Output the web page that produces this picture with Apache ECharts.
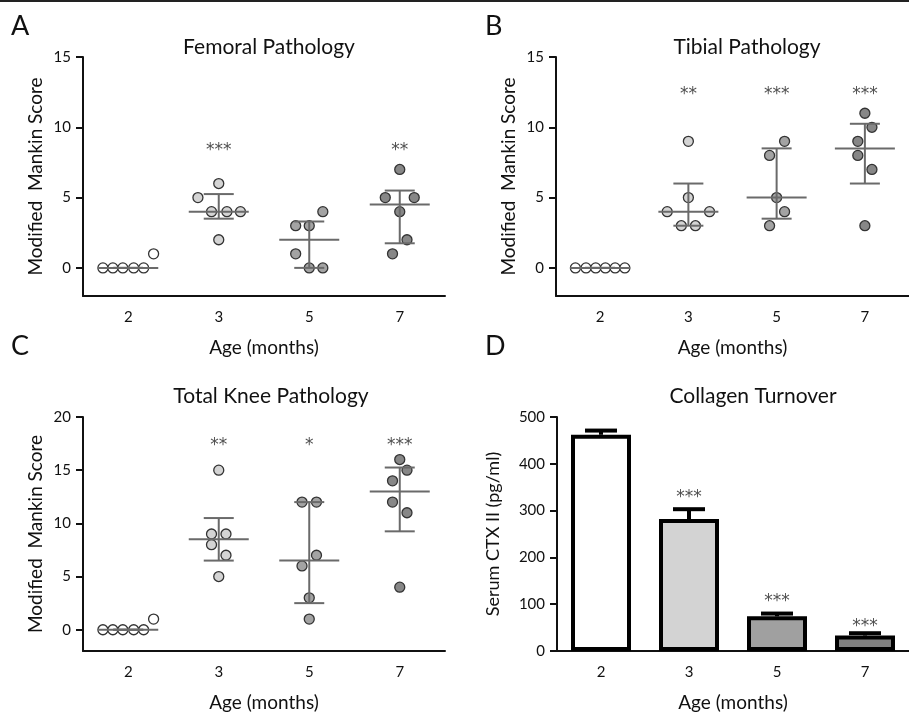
<!DOCTYPE html>
<html>
<head>
<meta charset="utf-8">
<script src="https://cdn.jsdelivr.net/npm/echarts@6/dist/echarts.min.js"></script>
<style>
html, body { margin: 0; padding: 0; background: #fff; }
#main { width: 909px; height: 713px; }
</style>
</head>
<body>
<div id="main"></div>
<script>
// ages on the x axis
const ages = ['2', '3', '5', '7'];
const dotColors = ['#ffffff', '#d4d4d4', '#a3a3a3', '#878787'];
const barColors = ['#ffffff', '#d3d3d3', '#a0a0a0', '#808080'];

// A - femoral scores per age group, with horizontal jitter (in category units)
const femoral = [[0, 0, 0, 0, 0, 1], [5, 6, 4, 4, 4, 2], [3, 3, 4, 1, 0, 0], [7, 5, 5, 4, 2, 1]];
const femoralJitter = [[-0.28, -0.17, -0.06, 0.06, 0.17, 0.28], [-0.23, 0, -0.08, 0.09, 0.24, 0], [-0.15, 0, 0.15, -0.15, 0, 0.15], [0, -0.16, 0.16, 0, 0.08, -0.08]];
const femoralStats = [[0, 0, 0], [4, 3.5, 5.25], [2, 0, 3.3], [4.5, 1.75, 5.5]]; // median, q1, q3
const femoralStars = ['', '***', '', '**'];
const femoralStarY = 8.7;

// B - tibial
const tibial = [[0, 0, 0, 0, 0, 0], [9, 5, 4, 4, 3, 3], [9, 8, 5, 4, 3], [11, 10, 9, 8, 7, 3]];
const tibialJitter = [[-0.28, -0.16, -0.05, 0.06, 0.17, 0.28], [0, 0, -0.24, 0.24, -0.08, 0.08], [0.09, -0.08, 0, 0.09, -0.08], [0, 0.08, -0.08, -0.08, 0.08, 0]];
const tibialStats = [[0, 0, 0], [4, 3, 6], [5, 3.5, 8.5], [8.5, 6, 10.25]];
const tibialStars = ['', '**', '***', '***'];
const tibialStarY = 12.65;

// C - total knee
const knee = [[0, 0, 0, 0, 0, 1], [15, 9, 9, 8, 7, 5], [12, 12, 7, 6, 3, 1], [16, 15, 14, 12, 11, 4]];
const kneeJitter = [[-0.28, -0.17, -0.06, 0.06, 0.17, 0.28], [0, -0.08, 0.08, -0.08, 0.08, 0], [-0.08, 0.08, 0.08, -0.08, 0, 0], [0, 0.08, -0.08, -0.08, 0.08, 0]];
const kneeStats = [[0, 0, 0], [8.5, 6.5, 10.5], [6.5, 2.5, 12], [13, 9.25, 15.25]];
const kneeStars = ['', '**', '*', '***'];
const kneeStarY = 17.8;

// D - serum CTX II
const ctxMean = [462, 282, 74, 33];
const ctxUpper = [471, 303, 80, 38];
const ctxStars = ['', '***', '***', '***'];
const ctxStarY = [0, 339, 117, 63];

const font = 'Lato';
const ink = '#111';

let chart = echarts.init(document.getElementById('main'));

function catAxis(grid, name) {
    return {
        type: 'category', gridIndex: grid, data: ages,
        boundaryGap: true,
        name: name, nameLocation: 'middle', nameGap: 42,
        nameTextStyle: {fontFamily: font, fontSize: 19, color: ink},
        axisLine: {onZero: false, lineStyle: {color: ink, width: 2}},
        axisTick: {alignWithLabel: true, length: 7, lineStyle: {color: ink, width: 2}},
        axisLabel: {fontFamily: font, fontSize: 15, color: ink, margin: 14}
    };
}
function hiddenAxis(grid) {
    return {type: 'value', gridIndex: grid, min: -0.5, max: 3.5, show: false};
}
function valAxis(grid, min, max, ticks, name, gap, size) {
    return {
        type: 'value', gridIndex: grid, min: min, max: max,
        name: name, nameLocation: 'middle', nameGap: gap,
        nameTextStyle: {fontFamily: font, fontSize: size, color: ink},
        splitLine: {show: false},
        axisLine: {show: true, onZero: false, lineStyle: {color: ink, width: 2}},
        axisTick: {show: true, length: 7, customValues: ticks, lineStyle: {color: ink, width: 2}},
        axisLabel: {fontFamily: font, fontSize: 15, color: ink, margin: 12, customValues: ticks}
    };
}

function renderMedian(params, api) {
    let m = api.coord([api.value(0), api.value(1)]);
    let lo = api.coord([api.value(0), api.value(2)]);
    let hi = api.coord([api.value(0), api.value(3)]);
    let st = {stroke: '#6a6a6a', lineWidth: 2};
    return {
        type: 'group', children: [
            {type: 'line', shape: {x1: m[0] - 30, y1: m[1], x2: m[0] + 30, y2: m[1]}, style: st},
            {type: 'line', shape: {x1: m[0], y1: lo[1], x2: m[0], y2: hi[1]}, style: st},
            {type: 'line', shape: {x1: m[0] - 15, y1: lo[1], x2: m[0] + 15, y2: lo[1]}, style: st},
            {type: 'line', shape: {x1: m[0] - 15, y1: hi[1], x2: m[0] + 15, y2: hi[1]}, style: st}
        ]
    };
}

function renderErr(params, api) {
    let base = api.coord([api.value(0), api.value(1)]);
    let top = api.coord([api.value(0), api.value(2)]);
    let st = {stroke: '#000', lineWidth: 4};
    return {
        type: 'group', children: [
            {type: 'line', shape: {x1: top[0], y1: base[1], x2: top[0], y2: top[1]}, style: st},
            {type: 'line', shape: {x1: top[0] - 16, y1: top[1], x2: top[0] + 16, y2: top[1]}, style: st}
        ]
    };
}

function starSeries(xIdx, yIdx, stars, ys) {
    let data = [];
    stars.forEach(function (s, i) {
        if (s) data.push({value: [i, Array.isArray(ys) ? ys[i] : ys], label: {formatter: s}});
    });
    return {
        type: 'scatter', xAxisIndex: xIdx, yAxisIndex: yIdx, symbolSize: 1,
        itemStyle: {color: 'rgba(0,0,0,0)'}, silent: true, z: 5,
        // the asterisk glyph sits high in its box, so push it down a little
        label: {show: true, position: 'inside', offset: [0, 5], fontFamily: 'DejaVu Sans', fontSize: 17, color: '#222'},
        data: data
    };
}

// one scatter panel: dots per group, median/IQR lines, stars
function dotPanel(catIdx, valIdx, yIdx, values, jitter, stats, stars, starY) {
    let out = [];
    values.forEach(function (grp, g) {
        out.push({
            type: 'scatter', xAxisIndex: valIdx, yAxisIndex: yIdx,
            symbol: 'circle', symbolSize: 10, z: 2,
            itemStyle: {color: dotColors[g], borderColor: '#333', borderWidth: 1.3, opacity: 1},
            data: grp.map(function (v, k) { return [g + jitter[g][k], v]; })
        });
    });
    out.push({
        type: 'custom', xAxisIndex: catIdx, yAxisIndex: yIdx, z: 3,
        renderItem: renderMedian, encode: {x: 0, y: [1, 2, 3]},
        data: stats.map(function (s, g) { return [g, s[0], s[1], s[2]]; })
    });
    out.push(starSeries(catIdx, yIdx, stars, starY));
    return out;
}

let series = [].concat(
    dotPanel(0, 1, 0, femoral, femoralJitter, femoralStats, femoralStars, femoralStarY),
    dotPanel(2, 3, 1, tibial, tibialJitter, tibialStats, tibialStars, tibialStarY),
    dotPanel(4, 5, 2, knee, kneeJitter, kneeStats, kneeStars, kneeStarY),
    [
        {
            type: 'bar', xAxisIndex: 6, yAxisIndex: 3, barWidth: 60, z: 2,
            itemStyle: {borderColor: '#000', borderWidth: 4},
            data: ctxMean.map(function (v, i) { return {value: v, itemStyle: {color: barColors[i]}}; })
        },
        {
            type: 'custom', xAxisIndex: 6, yAxisIndex: 3, z: 3,
            renderItem: renderErr, encode: {x: 0, y: [1, 2]},
            data: ctxMean.map(function (v, i) { return [i, v, ctxUpper[i]]; })
        },
        starSeries(6, 3, ctxStars, ctxStarY)
    ]
);

function titleAt(text, x, y) {
    return {text: text, left: x, top: y, textAlign: 'center',
        textStyle: {fontFamily: font, fontSize: 21, fontWeight: 'normal', color: ink}};
}
function letterAt(text, x, y) {
    return {type: 'text', left: x, top: y,
        style: {text: text, fontFamily: font, fontSize: 27, fill: ink}};
}

let option = {
    animation: false,
    backgroundColor: '#fff',
    title: [
        titleAt('Femoral Pathology', 264, 32),
        titleAt('Tibial Pathology', 742, 32),
        titleAt('Total Knee Pathology', 266, 381),
        titleAt('Collagen Turnover', 748, 381)
    ],
    graphic: [
        {type: 'line', shape: {x1: 0, y1: 1, x2: 909, y2: 1}, style: {stroke: '#222', lineWidth: 2}},
        letterAt('A', 11, 13),
        letterAt('B', 485, 13),
        letterAt('C', 11, 333),
        letterAt('D', 485, 333)
    ],
    grid: [
        {left: 83, top: 57, width: 362, height: 239},
        {left: 556, top: 57, width: 362, height: 239},
        {left: 83, top: 417, width: 362, height: 242},
        {left: 557, top: 417, width: 362, height: 239}
    ],
    xAxis: [
        catAxis(0, 'Age (months)'), hiddenAxis(0),
        catAxis(1, 'Age (months)'), hiddenAxis(1),
        catAxis(2, 'Age (months)'), hiddenAxis(2),
        catAxis(3, 'Age (months)')
    ],
    yAxis: [
        valAxis(0, -2, 15, [0, 5, 10, 15], 'Modified  Mankin Score', 38, 19),
        valAxis(1, -2, 15, [0, 5, 10, 15], 'Modified  Mankin Score', 38, 19),
        valAxis(2, -2, 20, [0, 5, 10, 15, 20], 'Modified  Mankin Score', 38, 19),
        valAxis(3, 0, 500, [0, 100, 200, 300, 400, 500], 'Serum CTX II (pg/ml)', 55, 18)
    ],
    series: series
};
chart.setOption(option);
</script>
</body>
</html>
